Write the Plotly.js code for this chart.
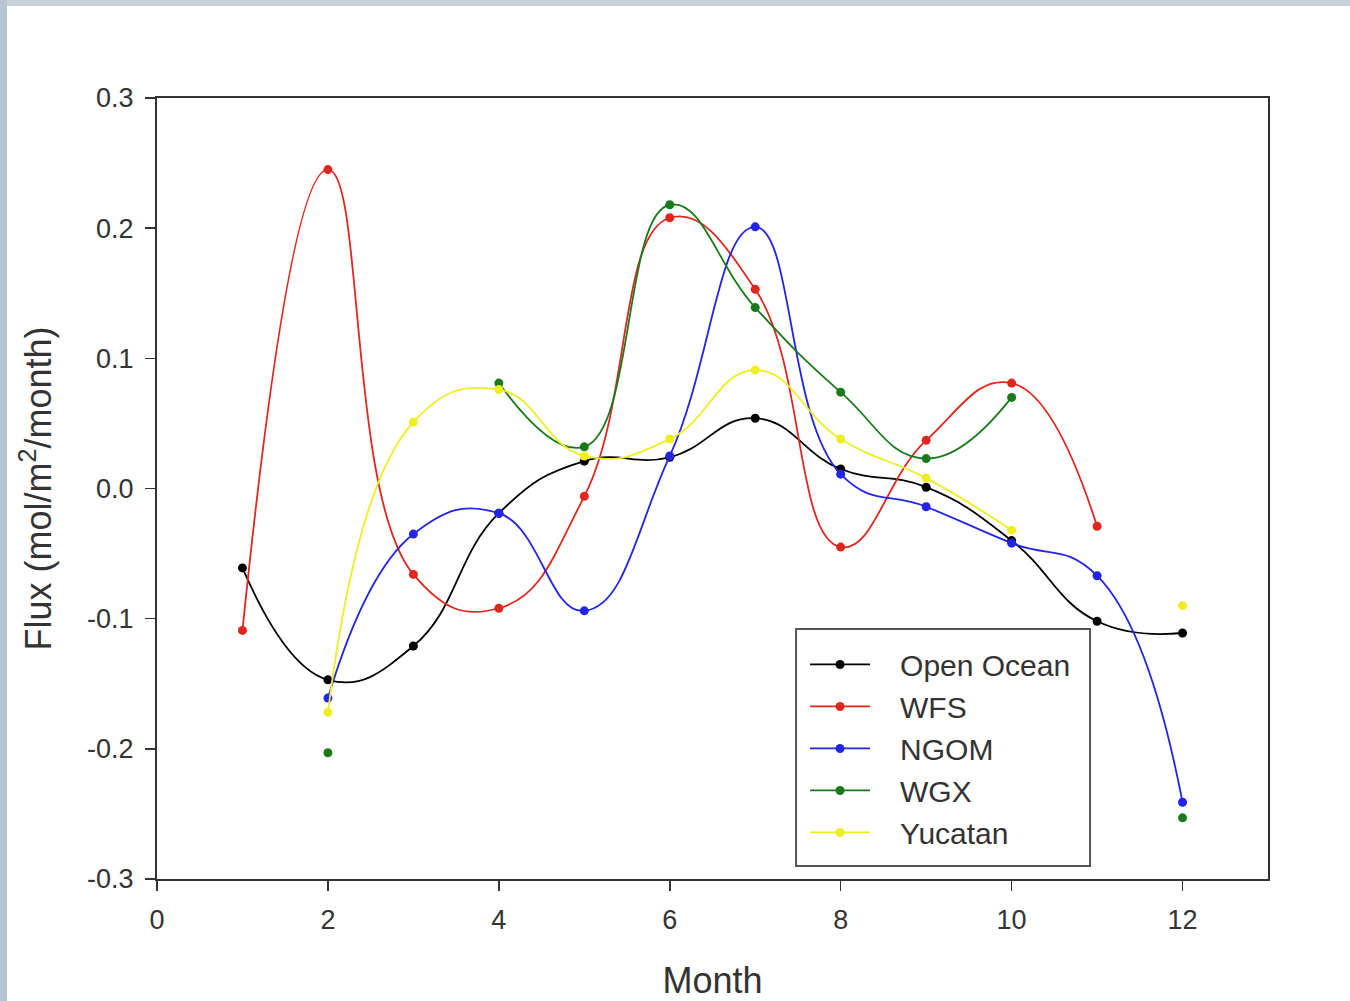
<!DOCTYPE html>
<html>
<head>
<meta charset="utf-8">
<script src="https://cdn.plot.ly/plotly-3.0.1.min.js"></script>
<style>
  html, body { margin: 0; padding: 0; width: 1350px; height: 1001px; overflow: hidden; background: #c9d0d6; }
  #leftstrip { position: absolute; left: 0; top: 0; width: 7px; height: 1001px; background: #b7c5d3; }
  #frame { position: absolute; left: 7px; top: 6px; width: 1343px; height: 995px; background: #ffffff; }
  #chart { position: absolute; left: 0; top: 0; width: 1350px; height: 1001px; }
</style>
</head>
<body>
<div id="leftstrip"></div>
<div id="frame"></div>
<div id="chart"></div>
<script>
const months = [1, 2, 3, 4, 5, 6, 7, 8, 9, 10, 11, 12];
const openOcean = [-0.061, -0.147, -0.121, -0.019, 0.021, 0.024, 0.054, 0.015, 0.001, -0.040, -0.102, -0.111];
const wfs       = [-0.109, 0.245, -0.066, -0.092, -0.006, 0.208, 0.153, -0.045, 0.037, 0.081, -0.029, null];
const ngom      = [null, -0.161, -0.035, -0.019, -0.094, 0.025, 0.201, 0.011, -0.014, -0.042, -0.067, -0.241];
const wgx       = [null, -0.203, null, 0.081, 0.032, 0.218, 0.139, 0.074, 0.023, 0.070, null, -0.253];
const yucatan   = [null, -0.172, 0.051, 0.076, 0.025, 0.038, 0.091, 0.038, 0.008, -0.032, null, -0.090];

const seriesNames = ["Open Ocean", "WFS", "NGOM", "WGX", "Yucatan"];
const seriesData = [openOcean, wfs, ngom, wgx, yucatan];
const seriesColors = ["#000000", "#e0261e", "#2424e6", "#1a7a1a", "#eeee22"];

const xTicks = [0, 2, 4, 6, 8, 10, 12];
const yTicks = [-0.3, -0.2, -0.1, 0.0, 0.1, 0.2, 0.3];
const yTickText = ["-0.3", "-0.2", "-0.1", "0.0", "0.1", "0.2", "0.3"];

const FONT = "Liberation Sans, Arial, sans-serif";

const traces = seriesNames.map((name, i) => ({
  x: months,
  y: seriesData[i],
  name: "\u00a0\u00a0\u00a0" + name,
  legendgroup: "g" + i,
  type: "scatter",
  mode: "lines+markers",
  connectgaps: false,
  line: { color: seriesColors[i], width: 1.8, shape: "spline", smoothing: 1.3 },
  marker: { color: seriesColors[i], size: 9 }
}));

const axisFont = { family: FONT, size: 27, color: "#333333" };

const layout = {
  width: 1350,
  height: 1001,
  paper_bgcolor: "rgba(0,0,0,0)",
  plot_bgcolor: "#ffffff",
  margin: { l: 157, r: 82, t: 98, b: 122 },
  showlegend: true,
  legend: {
    x: 0.5833, y: 0.308, xanchor: "left", yanchor: "top",
    bgcolor: "rgba(0,0,0,0)",
    borderwidth: 0,
    font: { family: FONT, size: 30, color: "#333333" },
    traceorder: "grouped",
    tracegroupgap: 0,
    itemwidth: 60
  },
  shapes: [{
    type: "rect", xref: "paper", yref: "paper",
    x0: 0.5752, x1: 0.8398, y0: 0.0167, y1: 0.3201,
    line: { color: "#555555", width: 2 },
    fillcolor: "#ffffff",
    layer: "above"
  }],
  xaxis: {
    range: [0, 13],
    tickmode: "array",
    tickvals: xTicks,
    ticks: "outside",
    ticklen: 10,
    tickwidth: 1.5,
    tickcolor: "#333333",
    ticklabelstandoff: 6,
    showline: true,
    linecolor: "#333333",
    linewidth: 2,
    mirror: true,
    showgrid: false,
    zeroline: false,
    tickfont: axisFont,
    title: { text: "Month", font: { family: FONT, size: 36, color: "#333333" }, standoff: 36 }
  },
  yaxis: {
    range: [-0.3, 0.3],
    tickmode: "array",
    tickvals: yTicks,
    ticktext: yTickText,
    ticks: "outside",
    ticklen: 10,
    tickwidth: 1.5,
    tickcolor: "#333333",
    ticklabelstandoff: 6,
    showline: true,
    linecolor: "#333333",
    linewidth: 2,
    mirror: true,
    showgrid: false,
    zeroline: false,
    tickfont: axisFont,
    title: { text: "Flux (mol/m<sup>2</sup>/month)", font: { family: FONT, size: 36, color: "#333333" }, standoff: 24 }
  }
};

Plotly.newPlot("chart", traces, layout, { displayModeBar: false, staticPlot: true });
</script>
</body>
</html>
